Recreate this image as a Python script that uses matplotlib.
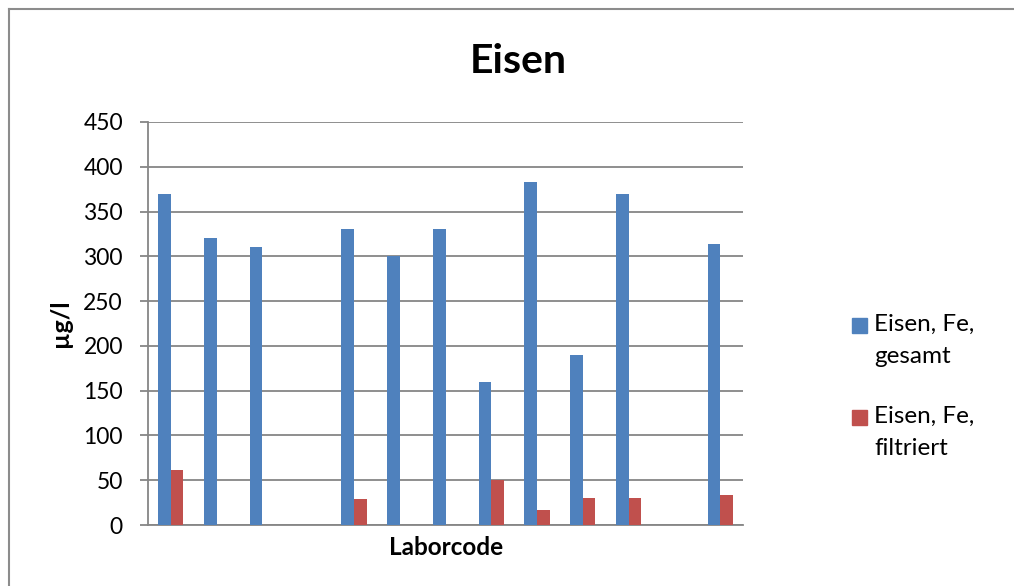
import numpy as np
import matplotlib
matplotlib.use("Agg")
import matplotlib.pyplot as plt
from matplotlib.patches import Rectangle
from matplotlib.lines import Line2D

plt.rcParams['font.family'] = ['Lato', 'DejaVu Sans']

# Eisen, Laborcode (13 labs, no code labels shown)
labs = list(range(13))
gesamt = [370, 320, 310, np.nan, 330, 300, 330, 160, 383, 190, 370, np.nan, 314]
filtriert = [61, np.nan, np.nan, np.nan, 29, np.nan, np.nan, 50, 17, 30, 30, np.nan, 33]
series_names = ["Eisen, Fe,\ngesamt", "Eisen, Fe,\nfiltriert"]
colors = ["#4F81BD", "#C0504D"]
yticks = [0, 50, 100, 150, 200, 250, 300, 350, 400, 450]

W, H = 1014, 586
fig = plt.figure(figsize=(W / 100, H / 100), dpi=100)
ax = fig.add_axes([148 / W, 1 - 525 / H, 595 / W, 403 / H])

x = np.arange(len(labs))
bw = 0.275
ax.bar(x - bw / 2, gesamt, bw, color=colors[0], zorder=3)
ax.bar(x + bw / 2, filtriert, bw, color=colors[1], zorder=3)

ax.set_xlim(-0.5, len(labs) - 0.5)
ax.set_ylim(0, 450)
ax.set_yticks(yticks)
ax.set_xticks([])
ax.yaxis.grid(True, color="#868686", lw=1.3, zorder=0)
ax.tick_params(axis='y', length=6, width=1.3, color="#868686", pad=12, labelsize=16.5)
for s in ["top", "right"]:
    ax.spines[s].set_visible(False)
for s in ["left", "bottom"]:
    ax.spines[s].set_color("#868686")
    ax.spines[s].set_linewidth(1.3)

# texts
fig.text(518 / W, 1 - 73 / H, "Eisen", fontsize=29.5, fontweight="bold", ha="center", va="baseline")
fig.text(446 / W, 1 - 555 / H, "Laborcode", fontsize=17.5, fontweight="bold", ha="center", va="baseline")
fig.text(60 / W, 1 - 323 / H, "µg/l", fontsize=18, fontweight="bold", ha="center", va="center", rotation=90)

# legend
for i, (name, c) in enumerate(zip(series_names, colors)):
    ytop = 318 + i * 92
    fig.patches.append(Rectangle((852 / W, 1 - (ytop + 15) / H), 15 / W, 15 / H,
                                 transform=fig.transFigure, color=c))
    fig.text(874 / W, 1 - (ytop - 4) / H, name, fontsize=17.5, ha="left", va="top", linespacing=1.62)

# chart frame (only top and left edges visible)
fig.lines.append(Line2D([9 / W, 1], [1 - 9 / H, 1 - 9 / H], transform=fig.transFigure, color="#8c8c8c", lw=1.5))
fig.lines.append(Line2D([9 / W, 9 / W], [0, 1 - 9 / H], transform=fig.transFigure, color="#8c8c8c", lw=1.5))

fig.savefig("out.png", dpi=100)
